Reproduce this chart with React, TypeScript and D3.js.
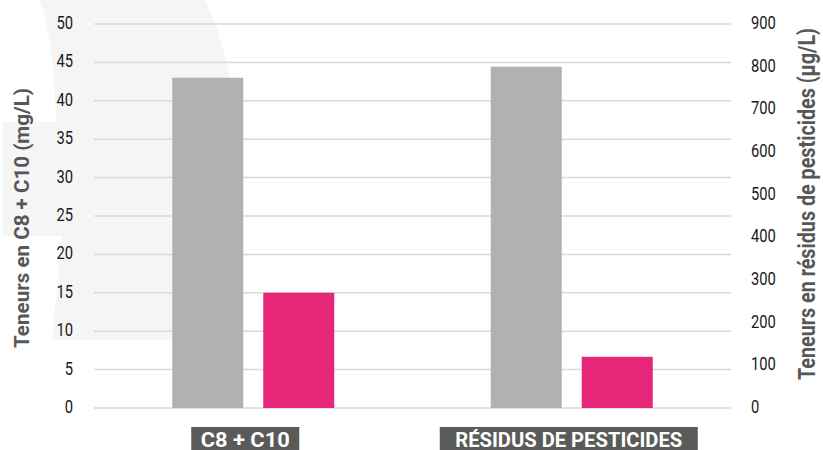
import React from "react";
import * as d3 from "d3";

const categories = ["C8 + C10", "RÉSIDUS DE PESTICIDES"];
const series = ["Série A", "Série B"];
// values per category: [grey, pink]; first category on left axis (mg/L), second on right axis (µg/L)
const valuesC8C10 = [43, 15];
const valuesPesticides = [800, 120];
const leftTicks = [0, 5, 10, 15, 20, 25, 30, 35, 40, 45, 50];
const rightTicks = [0, 100, 200, 300, 400, 500, 600, 700, 800, 900];
const leftTitle = "Teneurs en C8 + C10 (mg/L)";
const rightTitle = "Teneurs en résidus de pesticides (µg/L)";

const W = 823;
const H = 450;
const colors = ["#b1b1b1", "#e62678"];
const FONT = "Roboto, 'Liberation Sans', sans-serif";

export default function App() {
  const plotLeft = 94;
  const plotRight = 731;
  const yTop = 24;
  const yBottom = 408;

  const x0 = d3.scaleBand<string>().domain(categories).range([plotLeft, plotRight]).paddingInner(0).paddingOuter(0);
  const bw = x0.bandwidth();
  const groupW = 162;
  const x1 = d3
    .scaleBand<string>()
    .domain(series)
    .range([bw / 2 - groupW / 2, bw / 2 + groupW / 2])
    .paddingInner(20 / 91)
    .paddingOuter(0);
  const yL = d3.scaleLinear().domain([0, 50]).range([yBottom, yTop]);
  const yR = d3.scaleLinear().domain([0, 900]).range([yBottom, yTop]);

  const groups = [
    { cat: categories[0], values: valuesC8C10, scale: yL, labelW: 108, textW: 89, dx: -8 },
    { cat: categories[1], values: valuesPesticides, scale: yR, labelW: 258, textW: 227, dx: -3 },
  ];

  return (
    <svg
      width={W}
      height={H}
      viewBox={`0 0 ${W} ${H}`}
      style={{ position: "absolute", left: 0, top: 0, background: "#ffffff" }}
    >
      {/* faint decorative background shape */}
      <path
        d="M40,0 L205,0 C222,35 232,75 234,120 L238,340 L52,340 L62,236 L3,236 L3,122 L56,122 C55,70 50,30 40,0 Z"
        fill="#f5f5f5"
      />
      {/* gridlines */}
      {leftTicks.map((t) => (
        <line key={t} x1={plotLeft} x2={plotRight} y1={yL(t)} y2={yL(t)} stroke="#d9d9d9" strokeWidth={1.5} />
      ))}
      {/* left tick labels */}
      {leftTicks.map((t) => (
        <text
          key={"l" + t}
          transform={`translate(73,${yL(t) + 5}) scale(0.82,1)`}
          textAnchor="end"
          fontFamily={FONT}
          fontSize={18}
          fill="#1a1a1a"
        >
          {t}
        </text>
      ))}
      {/* right tick labels */}
      {rightTicks.map((t) => (
        <text
          key={"r" + t}
          transform={`translate(751,${yR(t) + 5}) scale(0.82,1)`}
          textAnchor="start"
          fontFamily={FONT}
          fontSize={18}
          fill="#1a1a1a"
        >
          {t}
        </text>
      ))}
      {/* bars */}
      {groups.map((g) => (
        <g key={g.cat} transform={`translate(${x0(g.cat)},0)`}>
          {g.values.map((v, i) => (
            <rect
              key={series[i]}
              x={x1(series[i])}
              y={g.scale(v)}
              width={x1.bandwidth()}
              height={yBottom - g.scale(v)}
              fill={colors[i]}
            />
          ))}
        </g>
      ))}
      {/* category labels */}
      {groups.map((g) => {
        const cx = (x0(g.cat) as number) + bw / 2 + g.dx;
        return (
          <g key={"lab" + g.cat}>
            <rect x={cx - g.labelW / 2} y={427} width={g.labelW} height={H - 427} fill="#5a5a59" />
            <text
              x={cx}
              y={447}
              textAnchor="middle"
              fontFamily={FONT}
              fontWeight="bold"
              fontSize={21}
              fill="#ffffff"
              textLength={g.textW}
              lengthAdjust="spacingAndGlyphs"
            >
              {g.cat}
            </text>
          </g>
        );
      })}
      {/* axis titles */}
      <text
        transform="translate(29,218) rotate(-90)"
        textAnchor="middle"
        fontFamily={FONT}
        fontWeight="bold"
        fontSize={20}
        fill="#575757"
        textLength={260}
        lengthAdjust="spacingAndGlyphs"
      >
        {leftTitle}
      </text>
      <text
        transform="translate(815,204) rotate(-90)"
        textAnchor="middle"
        fontFamily={FONT}
        fontWeight="bold"
        fontSize={23}
        fill="#575757"
        textLength={352}
        lengthAdjust="spacingAndGlyphs"
      >
        {rightTitle}
      </text>
    </svg>
  );
}
